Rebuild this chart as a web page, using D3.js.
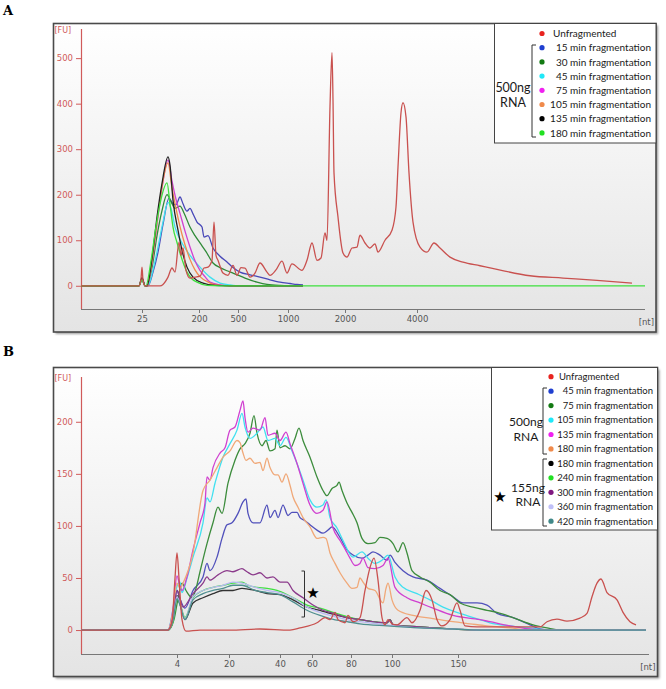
<!DOCTYPE html>
<html><head><meta charset="utf-8">
<script src="https://cdn.jsdelivr.net/npm/d3@7"></script>
<style>body{margin:0;background:#fff}svg{display:block}</style>
</head><body>
<script>
// ---------- DATA (x = migration time [s], y = fluorescence [FU]) ----------
const tickA_pos = [26.1, 31.8, 35.7, 40.7, 46.4, 53.6];
const tickA_lab = ["25","200","500","1000","2000","4000"];
const fuTicksA = [0,100,200,300,400,500];
const tickB_pos = [29.6, 34.8, 39.9, 43.1, 47.0, 51.1, 57.7];
const tickB_lab = ["4","20","40","60","80","100","150"];
const fuTicksB = [0,50,100,150,200];

const labelsA = ["Unfragmented","15 min fragmentation","30 min fragmentation","45 min fragmentation","75 min fragmentation","105 min fragmentation","135 min fragmentation","180 min fragmentation"];
const labelsB = ["Unfragmented","45 min fragmentation","75 min fragmentation","105 min fragmentation","135 min fragmentation","180 min fragmentation","180 min fragmentation","240 min fragmentation","300 min fragmentation","360 min fragmentation","420 min fragmentation"];

const A_unfrag = [[20,0],[25.8,0],[26.0,15],[26.1,41],[26.2,12],[26.4,0],[27.9,0],[28.2,3],[28.7,19],[29.1,39],[29.4,30],[29.8,96],[30.0,67],[30.2,83],[30.5,34],[30.9,17],[31.4,19],[31.9,21],[32.3,39],[32.7,41],[33.1,56],[33.3,140],[33.5,67],[33.7,56],[34.2,28],[34.7,23],[35.2,45],[35.6,23],[36.0,40],[36.4,39],[36.9,19],[37.4,28],[37.9,50],[38.6,30],[38.9,23],[39.5,35],[40.1,54],[40.6,28],[41.1,48],[42.1,34],[42.6,56],[43.1,94],[43.6,56],[44.0,61],[44.4,116],[44.6,100],[44.9,393],[45.1,512],[45.2,408],[45.3,248],[45.7,151],[46.2,72],[46.6,63],[47.1,83],[47.6,85],[47.9,111],[48.4,94],[48.9,83],[49.4,92],[49.7,74],[50.4,100],[51.1,122],[51.5,173],[51.7,261],[52.0,380],[52.2,402],[52.5,371],[52.8,248],[53.2,140],[53.9,85],[54.6,74],[55.3,94],[55.9,83],[56.9,63],[58.2,52],[59.9,44],[61.6,36],[64.9,22],[68.2,17],[71.6,12],[75.1,6]];
const A_15 = [[20,0],[25.8,0],[26.1,15],[26.4,0],[26.7,0],[27.2,30],[27.7,74],[28.2,135],[28.8,192],[29.2,180],[29.5,178],[29.9,195],[30.2,180],[30.6,164],[30.9,170],[31.2,158],[31.6,140],[32.1,129],[32.3,107],[32.7,110],[33.2,83],[33.9,65],[34.6,52],[35.2,40],[35.9,30],[36.9,24],[37.9,19],[38.9,13],[39.9,8],[40.9,5],[41.6,3],[42.2,2]];
const A_30 = [[20,0],[25.8,0],[26.1,14],[26.4,0],[26.6,0],[27.1,40],[27.6,110],[28.1,165],[28.6,200],[29.0,185],[29.4,170],[29.9,175],[30.3,160],[30.9,129],[31.4,110],[31.9,94],[32.5,75],[33.2,50],[33.9,40],[34.6,33],[35.2,28],[36.4,17],[37.6,8],[38.6,3],[39.9,1],[42.2,0]];
const A_45 = [[20,0],[25.8,0],[26.1,16],[26.4,0],[26.7,0],[27.2,35],[27.7,85],[28.2,140],[28.7,183],[29.0,170],[29.4,129],[30.1,94],[30.9,67],[31.9,41],[32.9,19],[33.9,6],[34.9,2],[35.9,0],[42.2,0]];
const A_75 = [[20,0],[25.8,0],[26.1,17],[26.4,0],[26.6,0],[27.1,50],[27.6,135],[28.1,215],[28.7,276],[29.1,230],[29.5,190],[29.9,159],[30.4,120],[30.9,85],[31.4,55],[31.9,34],[32.4,20],[32.9,8],[33.9,2],[34.9,0],[42.2,0]];
const A_105 = [[20,0],[25.8,0],[26.1,17],[26.4,0],[26.6,0],[27.1,52],[27.6,140],[28.1,218],[28.7,270],[29.1,215],[29.5,170],[29.9,130],[30.4,90],[30.9,58],[31.4,35],[31.9,20],[32.9,6],[33.9,1],[34.9,0],[42.2,0]];
const A_135 = [[20,0],[25.8,0],[26.1,18],[26.4,0],[26.6,0],[27.1,60],[27.6,151],[28.1,225],[28.7,283],[28.9,265],[29.2,188],[29.7,122],[30.1,78],[30.6,41],[31.2,19],[32.2,6],[33.4,1],[34.9,0],[42.2,0]];
const A_180 = [[20,0],[25.8,0],[26.1,13],[26.4,0],[26.5,0],[27.0,55],[27.5,130],[28.0,190],[28.6,226],[28.9,180],[29.2,129],[29.6,95],[29.9,72],[30.6,30],[31.1,15],[31.6,8],[32.6,1],[33.9,0],[76.4,0]];

const B_unfrag = [[20,0],[28.7,0],[29.1,8],[29.4,50],[29.6,74],[29.8,50],[30.1,10],[30.5,-1],[31.9,0],[34.9,0],[37.9,1],[40.9,0],[41.9,2],[43.6,7],[44.4,12],[44.9,10],[45.4,17],[45.7,10],[46.4,7],[46.7,14],[47.2,8],[47.9,12],[48.4,38],[48.9,60],[49.3,69],[49.7,48],[50.1,12],[50.4,5],[50.7,10],[51.1,6],[51.6,5],[52.6,12],[53.1,7],[53.9,19],[54.5,38],[55.1,29],[55.6,10],[56.1,4],[56.9,10],[57.6,26],[57.9,19],[58.4,4],[59.6,3],[61.9,3],[65.9,3],[66.6,8],[67.6,10.5],[68.6,8.6],[69.9,11.5],[70.6,16],[71.1,32],[71.6,45],[72.0,49],[72.6,36],[73.6,29],[74.2,17],[74.9,8],[75.5,5]];
const B_45 = [[20,0],[28.7,0],[29.2,15],[29.6,38],[29.9,30],[30.4,21],[31.2,38],[32.2,51],[32.6,64],[32.9,57],[33.6,70],[34.1,88],[34.6,101],[35.1,103],[35.7,112],[36.2,123],[36.5,126],[36.7,112],[37.2,103],[37.9,103],[38.6,120],[38.9,108],[39.4,115],[39.7,108],[40.2,120],[40.7,110],[41.1,113],[41.6,113],[41.9,108],[42.4,105],[42.9,101],[43.6,96],[44.2,93],[44.7,96],[45.1,99],[45.9,89],[46.6,77],[47.2,72],[48.1,69],[48.7,72],[49.2,75],[49.9,72],[50.6,67],[50.9,72],[51.4,65],[52.2,57],[53.2,51],[54.6,48],[55.9,40],[57.2,32],[58.2,26],[59.6,26],[60.6,24],[61.6,16],[63.2,12],[64.9,5],[65.9,1],[66.9,0],[76.5,0]];
const B_75 = [[20,0],[28.7,0],[29.3,10],[29.7,30],[30.1,45],[30.5,38],[31.1,31],[31.5,40],[31.9,56],[32.6,83],[33.2,103],[33.7,118],[34.1,112],[34.7,141],[35.4,163],[35.9,174],[36.4,179],[36.9,189],[37.3,206],[37.6,189],[38.1,177],[38.5,182],[38.9,172],[39.4,174],[39.6,192],[39.9,175],[40.4,177],[40.9,174],[41.4,184],[41.8,194],[42.2,182],[42.9,166],[43.6,147],[44.2,134],[44.6,129],[45.1,136],[45.6,139],[45.8,142],[46.1,134],[46.6,122],[47.1,113],[47.6,103],[48.1,88],[48.7,83],[49.4,84],[49.9,89],[50.6,88],[51.2,83],[51.7,75],[52.2,84],[52.6,74],[53.1,57],[53.9,51],[54.9,46],[55.9,38],[56.9,34],[57.9,26],[59.2,22],[60.6,19],[61.6,17],[63.2,12],[65.2,5],[66.6,2],[67.9,0],[76.5,0]];
const B_105 = [[20,0],[28.7,0],[29.2,20],[29.6,42],[29.9,46],[30.1,36],[30.6,50],[31.2,70],[32.2,103],[32.6,127],[32.9,123],[33.4,141],[34.2,166],[34.9,179],[35.6,192],[36.1,208],[36.4,195],[36.9,184],[37.6,189],[38.2,195],[38.7,182],[39.4,184],[39.9,177],[40.5,185],[41.1,172],[41.6,160],[42.2,144],[42.9,125],[43.6,118],[44.2,120],[44.5,125],[44.9,108],[45.6,98],[46.2,86],[47.2,70],[48.1,75],[48.7,69],[49.4,64],[50.1,67],[50.7,72],[51.4,51],[52.2,41],[53.6,35],[54.9,29],[56.2,22],[57.9,16],[59.9,10],[60.9,7],[62.9,4],[64.9,2],[66.9,0],[76.5,0]];
const B_135 = [[20,0],[28.7,0],[29.2,20],[29.6,52],[29.9,42],[30.1,38],[30.6,51],[31.2,77],[31.9,103],[32.4,122],[32.6,147],[32.9,144],[33.2,156],[33.9,170],[34.4,175],[34.9,192],[35.4,195],[35.9,211],[36.2,220],[36.4,204],[36.7,190],[37.2,194],[37.9,192],[38.4,204],[38.7,187],[39.4,189],[39.9,182],[40.5,190],[40.9,179],[41.6,160],[42.2,141],[42.9,120],[43.6,112],[44.2,115],[44.6,123],[45.2,98],[45.9,86],[46.4,78],[46.9,69],[47.4,62],[47.9,64],[48.2,69],[48.7,60],[49.4,59],[50.2,62],[50.7,69],[51.4,41],[52.6,31],[53.9,26],[55.2,21],[57.2,14],[59.9,10],[60.9,8],[62.9,4],[64.9,1],[66.4,0],[76.5,0]];
const B_180 = [[20,0],[28.7,0],[29.2,18],[29.6,45],[29.9,40],[30.2,45],[31.2,74],[32.2,134],[32.9,144],[33.6,156],[34.2,166],[34.9,172],[35.6,182],[35.9,180],[36.2,170],[36.5,163],[36.9,165],[37.4,160],[37.9,161],[38.2,153],[38.6,165],[38.9,156],[39.4,149],[39.7,149],[40.1,142],[40.5,150],[40.9,139],[41.2,128],[41.7,118],[42.2,108],[42.9,99],[43.6,88],[44.2,89],[44.5,88],[44.9,74],[45.4,64],[45.9,55],[46.6,45],[47.1,40],[47.6,41],[47.9,50],[48.2,46],[48.7,40],[49.4,38],[50.2,26],[50.5,40],[50.7,45],[51.1,29],[51.7,19],[53.2,14],[55.2,11],[57.2,8],[58.9,6],[60.6,4],[62.9,2],[64.9,0],[76.5,0]];
const B_155_180 = [[20,0],[28.7,0],[29.2,10],[29.6,33],[29.9,25],[30.4,10],[31.2,26],[32.2,31],[33.2,35],[34.2,38],[35.2,38],[36.1,40],[37.4,38],[38.6,35],[39.9,34],[41.2,29],[42.6,22],[43.9,19],[44.9,16],[46.6,12],[47.9,10],[50.6,7],[50.9,10],[51.2,5],[53.9,3],[57.2,1],[59.9,0],[76.5,0]];
const B_155_240 = [[20,0],[28.7,0],[29.2,8],[29.6,30],[29.9,25],[30.4,12],[31.2,31],[32.2,38],[33.2,41],[34.2,43],[35.2,45],[36.1,46],[36.7,43],[37.6,41],[38.6,40],[39.6,38],[40.6,34],[41.6,29],[42.6,24],[43.9,21],[44.9,18],[46.6,13],[47.9,10],[50.6,7],[50.9,10],[51.2,5],[53.9,3],[57.2,1],[59.9,0],[76.5,0]];
const B_155_300 = [[20,0],[28.7,0],[29.2,12],[29.6,38],[29.9,30],[30.2,22],[31.2,35],[32.2,45],[32.6,51],[32.9,48],[33.7,53],[34.6,57],[35.2,56],[36.1,59],[36.6,56],[37.2,53],[37.9,55],[38.6,50],[39.2,51],[39.9,46],[40.6,46],[41.2,38],[42.2,31],[43.2,24],[44.2,19],[44.9,17],[46.6,12],[47.9,10],[50.6,7],[50.9,10],[51.2,5],[53.9,3],[57.2,1],[59.9,0],[76.5,0]];
const B_155_360 = [[20,0],[28.7,0],[29.2,10],[29.6,32],[29.9,25],[30.4,11],[31.2,32],[32.2,38],[33.2,41],[34.2,43],[35.2,46],[36.1,45],[37.4,41],[38.6,38],[39.9,36],[41.2,31],[42.6,22],[43.9,17],[44.9,14],[46.6,10],[47.9,8],[50.6,5],[53.9,2],[57.2,1],[59.9,0],[76.5,0]];
const B_155_420 = [[20,0],[28.7,0],[29.2,9],[29.6,30],[29.9,24],[30.4,10],[31.2,29],[32.2,35],[33.2,38],[34.2,40],[35.2,43],[36.1,43],[37.4,38],[38.6,36],[39.9,34],[41.2,27],[42.6,19],[43.9,14],[44.9,11],[46.6,8],[47.9,6],[50.6,4],[53.9,2],[57.2,1],[59.9,0],[76.5,0]];

// colours
const lineColA = ["#c9514f","#4848b8","#2f8a38","#40e0f0","#d040d0","#f08a4b","#222222","#3ee03e"];
const dotColA  = ["#e8231f","#1f3fd0","#137a13","#20e8f8","#f020f0","#f08a4b","#000000","#22e022"];
const lineColB = ["#c9514f","#5050bb","#3c8c3c","#40e0f0","#d040d0","#f0a878","#333333","#40e040","#8b3a8b","#b9b9f2","#4f8f8f"];
const dotColB  = ["#e8231f","#1f3fd0","#137a13","#20e8f8","#f020f0","#f08a4b","#000000","#22e022","#801880","#c0c0f8","#408888"];

const seriesA = [A_unfrag, A_15, A_30, A_45, A_75, A_105, A_135, A_180];
const seriesB = [B_unfrag, B_45, B_75, B_105, B_135, B_180, B_155_180, B_155_240, B_155_300, B_155_360, B_155_420];

// ---------- DRAW ----------
const svg = d3.select("body").append("svg").attr("width",666).attr("height",689);
const defs = svg.append("defs");
const grad = defs.append("linearGradient").attr("id","bg").attr("x1",0).attr("y1",0).attr("x2",0).attr("y2",1);
grad.append("stop").attr("offset","0%").attr("stop-color","#ffffff");
grad.append("stop").attr("offset","100%").attr("stop-color","#e4e4e4");
const flt = defs.append("filter").attr("id","sh").attr("x","-5%").attr("y","-5%").attr("width","110%").attr("height","110%");
flt.append("feGaussianBlur").attr("stdDeviation",1.2);

const axisRed = "#d05a5a";

function panel(cfg){
  const g = svg.append("g");
  g.append("rect").attr("x",cfg.fx+2).attr("y",cfg.fy+2).attr("width",cfg.fw).attr("height",cfg.fh)
    .attr("fill","#9a9a9a").attr("filter","url(#sh)");
  g.append("rect").attr("x",cfg.fx).attr("y",cfg.fy).attr("width",cfg.fw).attr("height",cfg.fh)
    .attr("fill","url(#bg)").attr("stroke","#4a4a4a").attr("stroke-width",1.6);

  const x = d3.scaleLinear().domain(cfg.xd).range(cfg.xr);
  const y = d3.scaleLinear().domain(cfg.yd).range(cfg.yr);

  const xa = d3.axisBottom(x).tickValues(cfg.tickPos).tickFormat((d,i)=>cfg.tickLab[i]).tickSize(4).tickPadding(3);
  const gx = g.append("g").attr("transform",`translate(0,${cfg.yr[0]})`).call(xa);
  gx.select(".domain").attr("stroke","#777").attr("stroke-width",1.2).attr("d",`M${cfg.xr[0]},0.5H${cfg.xr[1]}`);
  gx.selectAll(".tick line").attr("stroke","#777");
  gx.selectAll(".tick text").attr("fill","#555").style("font-family","DejaVu Sans, Verdana, sans-serif").style("font-size","8.5px");
  g.append("text").attr("x",cfg.fx+cfg.fw-2).attr("y",cfg.yr[0]+16).attr("text-anchor","end")
    .attr("fill","#555").style("font-family","DejaVu Sans, Verdana, sans-serif").style("font-size","8.5px").text("[nt]");

  const ya = d3.axisLeft(y).tickValues(cfg.fuTicks).tickSize(5).tickPadding(3).tickFormat(d3.format("d"));
  const gy = g.append("g").attr("transform",`translate(${cfg.xr[0]},0)`).call(ya);
  gy.select(".domain").attr("stroke",axisRed).attr("stroke-width",1.2).attr("d",`M0.5,${cfg.yr[1]}V${cfg.yr[0]}`);
  gy.selectAll(".tick line").attr("stroke",axisRed);
  gy.selectAll(".tick text").attr("fill",axisRed).style("font-family","DejaVu Sans, Verdana, sans-serif").style("font-size","8.5px");
  g.append("text").attr("x",cfg.fx+1).attr("y",cfg.yr[1]+4).attr("fill",axisRed)
    .style("font-family","DejaVu Sans, Verdana, sans-serif").style("font-size","8px").text("[FU]");

  const line = d3.line().x(d=>x(d[0])).y(d=>y(d[1])).curve(d3.curveMonotoneX);
  const order = d3.range(1,cfg.series.length).concat([0]);
  order.forEach(i=>{
    g.append("path").datum(cfg.series[i]).attr("d",line).attr("fill","none")
      .attr("stroke",cfg.lineCol[i]).attr("stroke-width",1.3).attr("stroke-linejoin","round");
  });
  return {g,x,y};
}

panel({fx:53.5,fy:23.5,fw:602.5,fh:308.5,xd:[20,76.4],xr:[81,645],yd:[-51,564],yr:[309,29],
  tickPos:tickA_pos,tickLab:tickA_lab,fuTicks:fuTicksA,series:seriesA,lineCol:lineColA});
panel({fx:53.5,fy:367.5,fw:604,fh:309,xd:[20,76.8],xr:[81,649],yd:[-23,243],yr:[654,377],
  tickPos:tickB_pos,tickLab:tickB_lab,fuTicks:fuTicksB,series:seriesB,lineCol:lineColB});

svg.append("text").attr("x",3).attr("y",15).text("A")
  .style("font-family","DejaVu Serif, Liberation Serif, serif").style("font-weight","bold").style("font-size","13px");
svg.append("text").attr("x",3).attr("y",356).text("B")
  .style("font-family","DejaVu Serif, Liberation Serif, serif").style("font-weight","bold").style("font-size","13px");

const legFont = "Lato, 'Open Sans', sans-serif";
function bracket(g,x,y1,y2){
  g.append("path").attr("d",`M${x+4},${y1}H${x}V${y2}H${x+4}`).attr("fill","none").attr("stroke","#333").attr("stroke-width",1);
}
(function(){
  const g = svg.append("g");
  g.append("rect").attr("x",494.5).attr("y",23.5).attr("width",161.5).attr("height",119.5).attr("fill","#fff").attr("stroke","#444").attr("stroke-width",1);
  labelsA.forEach((l,i)=>{
    const yy = 33.5 + i*14.2;
    g.append("circle").attr("cx",542).attr("cy",yy).attr("r",2.6).attr("fill",dotColA[i]);
    const t = g.append("text").attr("y",yy+3.6).style("font-family",legFont).style("font-size","10px").attr("fill","#1a1a1a").text(l);
    if(i===0) t.attr("x",553); else t.attr("x",651).attr("text-anchor","end");
  });
  bracket(g,532,45,137);
  g.append("text").attr("x",513).attr("y",92).attr("text-anchor","middle").style("font-family",legFont).style("font-size","12.5px").attr("fill","#1a1a1a").text("500ng");
  g.append("text").attr("x",513).attr("y",107).attr("text-anchor","middle").style("font-family",legFont).style("font-size","12.5px").attr("fill","#1a1a1a").text("RNA");
})();
(function(){
  const g = svg.append("g");
  g.append("rect").attr("x",491.5).attr("y",367.5).attr("width",166).attr("height",162.5).attr("fill","#fff").attr("stroke","#444").attr("stroke-width",1);
  labelsB.forEach((l,i)=>{
    const yy = 376.7 + i*14.45;
    g.append("circle").attr("cx",551).attr("cy",yy).attr("r",2.6).attr("fill",dotColB[i]);
    const t = g.append("text").attr("y",yy+3.3).style("font-family",legFont).style("font-size","9.5px").attr("fill","#1a1a1a").text(l);
    if(i===0) t.attr("x",559); else t.attr("x",653).attr("text-anchor","end");
  });
  bracket(g,543,388,454);
  bracket(g,543,459,526);
  const big = (x,y,s)=>g.append("text").attr("x",x).attr("y",y).attr("text-anchor","middle").style("font-family",legFont).style("font-size","12px").attr("fill","#1a1a1a").text(s);
  big(526,426,"500ng"); big(526,441,"RNA"); big(528,492,"155ng"); big(528,506,"RNA");
  g.append("text").attr("x",500).attr("y",502).attr("text-anchor","middle").style("font-family","DejaVu Sans, sans-serif").style("font-size","15px").attr("fill","#000").text("★");
})();
svg.append("path").attr("d","M301.5,571H304.5V617H301.5").attr("fill","none").attr("stroke","#333").attr("stroke-width",1);
svg.append("text").attr("x",313).attr("y",598).attr("text-anchor","middle").style("font-family","DejaVu Sans, sans-serif").style("font-size","15px").attr("fill","#000").text("★");
</script></body></html>
